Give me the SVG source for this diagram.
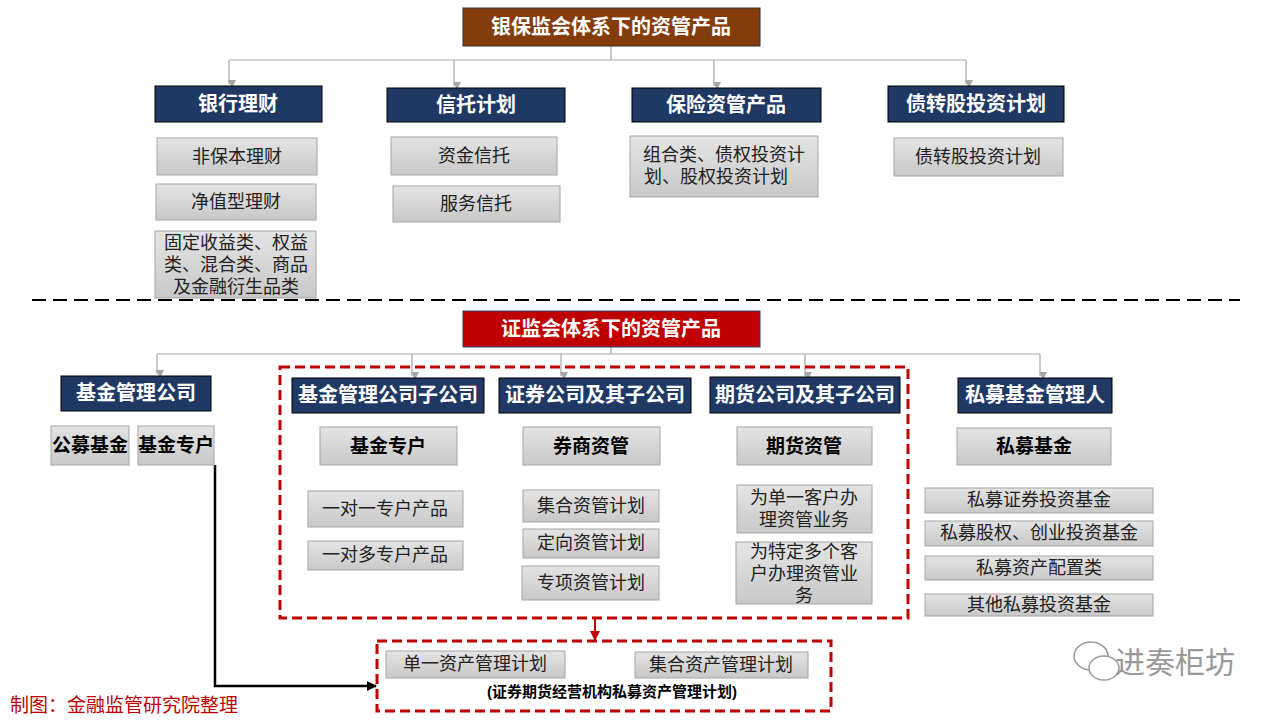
<svg xmlns="http://www.w3.org/2000/svg" width="1280" height="720" viewBox="0 0 1280 720">
<defs>
<linearGradient id="g" x1="0" y1="0" x2="0" y2="1"><stop offset="0" stop-color="#e4e4e4"/><stop offset="1" stop-color="#c8c8c8"/></linearGradient>
<marker id="ag" markerWidth="8" markerHeight="8" refX="4" refY="7" orient="auto" markerUnits="userSpaceOnUse"><path d="M0,0 L8,0 L4,8 Z" fill="#a6a6a6" transform="rotate(-90 4 4)"/></marker>
<marker id="ar" markerWidth="10" markerHeight="10" refX="9" refY="5" orient="auto" markerUnits="userSpaceOnUse"><path d="M0,0 L10,5 L0,10 Z" fill="#c00000"/></marker>
<marker id="ak" markerWidth="10" markerHeight="10" refX="9" refY="5" orient="auto" markerUnits="userSpaceOnUse"><path d="M0,0 L10,5 L0,10 Z" fill="#000"/></marker>
</defs>
<style>
text{font-family:"Liberation Sans","Noto Sans CJK SC",sans-serif;text-anchor:middle;dominant-baseline:central}
.nv{fill:#1f3864;stroke:#000;stroke-width:1}
.gr{fill:url(#g);stroke:#a6a6a6;stroke-width:1}
.wt{fill:#fff;font-size:20px;font-weight:bold}
.bt{fill:#000;font-size:19px;font-weight:bold}
.t{fill:#222;font-size:18px}
.cg{fill:none;stroke:#a6a6a6;stroke-width:1.2}
.rd{fill:none;stroke:#c00000;stroke-width:3;stroke-dasharray:10 5}
</style>
<rect width="1280" height="720" fill="#fff"/>
<g id="connectors">
<path class="cg" d="M611,46 V60 M229,60 H966"/>
<path class="cg" d="M229,60 V84" marker-end="url(#ag)"/>
<path class="cg" d="M454,60 V86" marker-end="url(#ag)"/>
<path class="cg" d="M714,60 V86" marker-end="url(#ag)"/>
<path class="cg" d="M966,60 V84" marker-end="url(#ag)"/>
<path class="cg" d="M611,347 V354 M157,354 H1040"/>
<path class="cg" d="M157,354 V374" marker-end="url(#ag)"/>
<path class="cg" d="M412,354 V376" marker-end="url(#ag)"/>
<path class="cg" d="M561,354 V376" marker-end="url(#ag)"/>
<path class="cg" d="M805,354 V376" marker-end="url(#ag)"/>
<path class="cg" d="M1040,354 V376" marker-end="url(#ag)"/>
<path d="M595,619 V640" stroke="#c00000" stroke-width="2" fill="none" marker-end="url(#ar)"/>
<path d="M215,465 V686 H376" stroke="#000" stroke-width="2.5" fill="none" marker-end="url(#ak)"/>
</g>
<line x1="32" y1="300" x2="1240" y2="300" stroke="#000" stroke-width="2" stroke-dasharray="14 7"/>
<g id="top"><rect x="463" y="8" width="297" height="38" fill="#843c0c" stroke="#333"/><text x="611" y="27" class="wt">银保监会体系下的资管产品</text></g>
<g id="yh"><rect class="nv" x="155" y="86" width="167" height="36"/><text x="238" y="104" class="wt">银行理财</text></g>
<g id="xt"><rect class="nv" x="387" y="88" width="178" height="34"/><text x="476" y="105" class="wt">信托计划</text></g>
<g id="bx"><rect class="nv" x="632" y="88" width="189" height="34"/><text x="726" y="105" class="wt">保险资管产品</text></g>
<g id="zz"><rect class="nv" x="888" y="86" width="176" height="36"/><text x="976" y="104" class="wt">债转股投资计划</text></g>
<g id="a1"><rect class="gr" x="157" y="138" width="160" height="37"/><text x="237" y="157" class="t">非保本理财</text></g>
<g id="a2"><rect class="gr" x="156" y="184" width="160" height="36"/><text x="236" y="202" class="t">净值型理财</text></g>
<g id="a3"><rect class="gr" x="155" y="231" width="161" height="67"/><text x="236" y="243" class="t" font-size="16">固定收益类、权益</text><text x="236" y="265" class="t" font-size="16">类、混合类、商品</text><text x="236" y="287" class="t" font-size="16">及金融衍生品类</text></g>
<g id="b1"><rect class="gr" x="391" y="137" width="166" height="38"/><text x="474" y="156" class="t">资金信托</text></g>
<g id="b2"><rect class="gr" x="393" y="186" width="167" height="36"/><text x="476" y="204" class="t">服务信托</text></g>
<g id="c1"><rect class="gr" x="630" y="136" width="188" height="61"/><text x="724" y="155" class="t">组合类、债权投资计</text><text x="716" y="177" class="t">划、股权投资计划</text></g>
<g id="d1"><rect class="gr" x="894" y="138" width="169" height="38"/><text x="978" y="157" class="t">债转股投资计划</text></g>
<g id="zjh"><rect x="463" y="311" width="297" height="36" fill="#c00000" stroke="#2f3f6f"/><text x="611" y="329" class="wt">证监会体系下的资管产品</text></g>
<rect class="rd" x="280" y="367" width="628" height="251"/>
<rect class="rd" x="377" y="641" width="454" height="70"/>
<g id="n1"><rect class="nv" x="61" y="376" width="150" height="35"/><text x="136" y="393" class="wt">基金管理公司</text></g>
<g id="n2"><rect class="nv" x="292" y="378" width="192" height="35"/><text x="388" y="395" class="wt">基金管理公司子公司</text></g>
<g id="n3"><rect class="nv" x="499" y="378" width="192" height="35"/><text x="595" y="395" class="wt">证券公司及其子公司</text></g>
<g id="n4"><rect class="nv" x="710" y="377" width="190" height="36"/><text x="805" y="395" class="wt">期货公司及其子公司</text></g>
<g id="n5"><rect class="nv" x="958" y="378" width="154" height="35"/><text x="1035" y="395" class="wt">私募基金管理人</text></g>
<g id="m1"><rect class="gr" x="51" y="426" width="78" height="39"/><text x="90" y="445" class="bt" font-size="18">公募基金</text></g>
<g id="m2"><rect class="gr" x="138" y="426" width="76" height="39"/><text x="176" y="445" class="bt" font-size="18">基金专户</text></g>
<g id="m3"><rect class="gr" x="320" y="427" width="137" height="38"/><text x="388" y="446" class="bt">基金专户</text></g>
<g id="m4"><rect class="gr" x="523" y="427" width="137" height="38"/><text x="591" y="446" class="bt">券商资管</text></g>
<g id="m5"><rect class="gr" x="737" y="427" width="135" height="38"/><text x="804" y="446" class="bt">期货资管</text></g>
<g id="m6"><rect class="gr" x="957" y="428" width="154" height="37"/><text x="1034" y="446" class="bt">私募基金</text></g>
<g id="p1"><rect class="gr" x="308" y="491" width="155" height="36"/><text x="385" y="509" class="t">一对一专户产品</text></g>
<g id="p2"><rect class="gr" x="308" y="541" width="155" height="29"/><text x="385" y="555" class="t">一对多专户产品</text></g>
<g id="q1"><rect class="gr" x="523" y="490" width="136" height="32"/><text x="591" y="506" class="t">集合资管计划</text></g>
<g id="q2"><rect class="gr" x="523" y="529" width="136" height="29"/><text x="591" y="543" class="t">定向资管计划</text></g>
<g id="q3"><rect class="gr" x="522" y="566" width="137" height="34"/><text x="591" y="583" class="t">专项资管计划</text></g>
<g id="r1"><rect class="gr" x="737" y="485" width="135" height="48"/><text x="804" y="498" class="t">为单一客户办</text><text x="804" y="520" class="t">理资管业务</text></g>
<g id="r2"><rect class="gr" x="736" y="542" width="136" height="62"/><text x="804" y="552" class="t">为特定多个客</text><text x="804" y="574" class="t">户办理资管业</text><text x="804" y="596" class="t">务</text></g>
<g id="s1"><rect class="gr" x="925" y="488" width="228" height="25"/><text x="1039" y="500" class="t">私募证券投资基金</text></g>
<g id="s2"><rect class="gr" x="925" y="521" width="228" height="25"/><text x="1039" y="533" class="t">私募股权、创业投资基金</text></g>
<g id="s3"><rect class="gr" x="925" y="556" width="228" height="24"/><text x="1039" y="568" class="t">私募资产配置类</text></g>
<g id="s4"><rect class="gr" x="925" y="594" width="228" height="22"/><text x="1039" y="605" class="t">其他私募投资基金</text></g>
<g id="u1"><rect class="gr" x="386" y="651" width="179" height="27"/><text x="475" y="664" class="t">单一资产管理计划</text></g>
<g id="u2"><rect class="gr" x="635" y="652" width="173" height="26"/><text x="721" y="665" class="t">集合资产管理计划</text></g>
<text x="612" y="691" font-size="15" font-weight="bold" fill="#000">(证券期货经营机构私募资产管理计划)</text>
<text x="10" y="705" font-size="19" fill="#c00000" style="text-anchor:start">制图：金融监管研究院整理</text>
<g id="wm" fill="#fff" stroke="#999" stroke-width="1.5"><ellipse cx="1091" cy="656" rx="17" ry="14"/><ellipse cx="1104" cy="668" rx="15" ry="12"/><text x="1175" y="662" font-size="30" fill="#999" stroke="none">进奏柜坊</text></g>
</svg>
